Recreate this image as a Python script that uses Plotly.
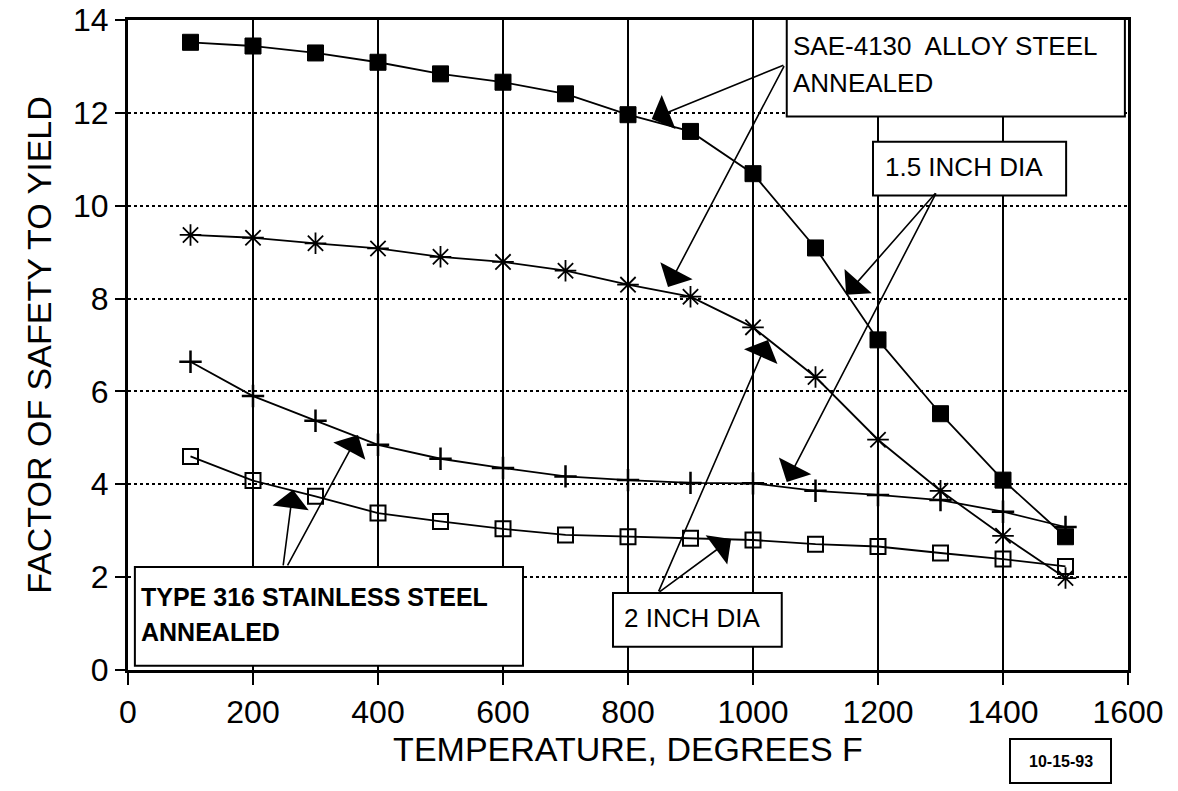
import plotly.graph_objects as go

temps = [100, 200, 300, 400, 500, 600, 700, 800, 900, 1000, 1100, 1200, 1300, 1400, 1500]
sae_15 = [13.52, 13.44, 13.29, 13.09, 12.84, 12.66, 12.41, 11.96, 11.6, 10.69, 9.09, 7.11, 5.52, 4.09, 2.87]
sae_2 = [9.37, 9.31, 9.19, 9.08, 8.90, 8.79, 8.60, 8.30, 8.04, 7.38, 6.31, 4.96, 3.86, 2.89, 1.98]
ss_15 = [6.64, 5.9, 5.37, 4.85, 4.55, 4.35, 4.17, 4.09, 4.03, 4.02, 3.86, 3.77, 3.66, 3.41, 3.08]
ss_2 = [4.6, 4.08, 3.74, 3.38, 3.2, 3.04, 2.91, 2.87, 2.84, 2.8, 2.71, 2.66, 2.52, 2.39, 2.23]

x_ticks = [0, 200, 400, 600, 800, 1000, 1200, 1400, 1600]
y_ticks = [0, 2, 4, 6, 8, 10, 12, 14]

FONT = "Liberation Sans, Arial, Helvetica, sans-serif"

fig = go.Figure()

def add(y, symbol, size, lw):
    fig.add_trace(go.Scatter(
        x=temps, y=y, mode="lines+markers",
        line=dict(color="black", width=1.8),
        marker=dict(symbol=symbol, size=size, color="black",
                    line=dict(color="black", width=lw)),
        showlegend=False, cliponaxis=False))

add(sae_15, "square", 16, 1)
add(sae_2, "asterisk-open", 18, 1.8)
add(ss_15, "cross-thin-open", 16, 2.5)
add(ss_2, "square-open", 15, 2)

# boxes (data coordinates)
boxes = [
    (1054, 11.92, 1595, 14.06),
    (1192, 10.22, 1501, 11.38),
    (776, 0.50, 1046, 1.66),
    (11, 0.09, 632, 2.22),
]
shapes = []
for x0, y0, x1, y1 in boxes:
    shapes.append(dict(type="rect", xref="x", yref="y", x0=x0, y0=y0, x1=x1, y1=y1,
                       fillcolor="white", line=dict(color="black", width=2), layer="above"))
# date stamp box
shapes.append(dict(type="rect", xref="paper", yref="paper", x0=0.882, x1=0.983,
                   y0=-0.174, y1=-0.106, fillcolor="white",
                   line=dict(color="black", width=2), layer="above"))

annots = []
def txt(x, y, text, size=26, xref="x", yref="y", xanchor="left"):
    annots.append(dict(x=x, y=y, xref=xref, yref=yref, text=text, showarrow=False,
                       xanchor=xanchor, yanchor="middle", align="left",
                       font=dict(family=FONT, size=size, color="black")))

txt(1060, 13.44, "SAE-4130  ALLOY STEEL")
txt(1060, 12.64, "ANNEALED")
txt(1208, 10.84, "1.5 INCH DIA")
txt(790, 1.12, "2 INCH DIA")
txt(17, 1.58, "<b>TYPE 316 STAINLESS STEEL</b>", size=25)
txt(17, 0.82, "<b>ANNEALED</b>", size=25)
txt(0.9325, -0.14, "<b>10-15-93</b>", size=16, xref="paper", yref="paper", xanchor="center")

arrows = [
    ((1051, 13.04), (838, 11.87)),
    ((1051, 13.04), (864, 8.25)),
    ((1294, 10.30), (1149, 8.08)),
    ((1294, 10.30), (1054, 4.05)),
    ((848, 1.66), (1024, 7.11)),
    ((848, 1.66), (965, 2.82)),
    ((248, 2.22), (264, 3.88)),
    ((254, 2.22), (368, 5.06)),
]
for (tx, ty), (hx, hy) in arrows:
    annots.append(dict(x=hx, y=hy, ax=tx, ay=ty, xref="x", yref="y", axref="x", ayref="y",
                       text="", showarrow=True, arrowhead=1, arrowsize=3.8,
                       arrowwidth=1.6, arrowcolor="black"))

fig.update_layout(
    width=1178, height=791,
    margin=dict(l=128, r=50, t=20, b=121),
    paper_bgcolor="white", plot_bgcolor="white",
    font=dict(family=FONT, color="black"),
    shapes=shapes, annotations=annots,
    xaxis=dict(range=[0, 1600], tickvals=x_ticks, ticks="outside", ticklen=12, tickwidth=2,
               tickcolor="black", showline=True, linecolor="black", linewidth=3, mirror=True,
               showgrid=True, gridcolor="black", gridwidth=2, zeroline=False, automargin=False,
               tickfont=dict(size=32), title=dict(text="TEMPERATURE, DEGREES F",
               font=dict(size=34), standoff=6)),
    yaxis=dict(range=[0, 14], tickvals=y_ticks, ticks="outside", ticklen=10, tickwidth=1.5,
               tickcolor="black", showline=True, linecolor="black", linewidth=3, mirror=True,
               showgrid=True, gridcolor="black", gridwidth=1.5, griddash="dot", zeroline=False,
               automargin=False,
               tickfont=dict(size=32), title=dict(text="FACTOR OF SAFETY TO YIELD",
               font=dict(size=34), standoff=12)),
)

fig.write_html("out.html", config={"displayModeBar": False},
               post_script="document.body.style.margin='0px';document.body.style.overflow='hidden';")
